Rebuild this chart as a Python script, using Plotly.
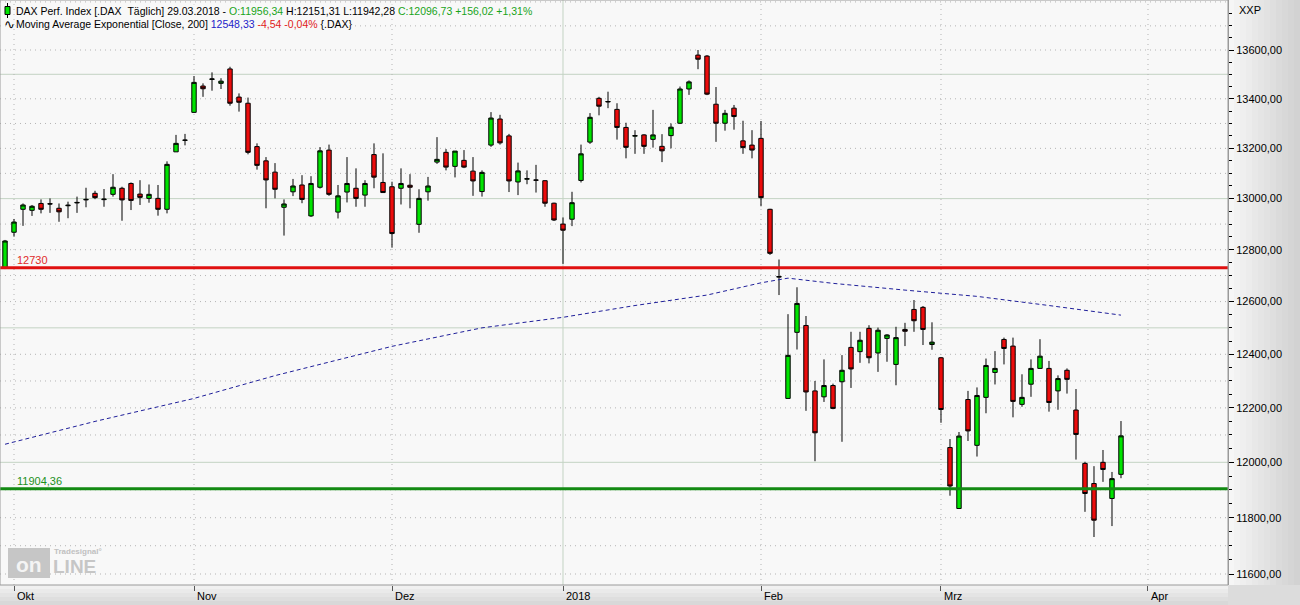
import math
import plotly.graph_objects as go

# ---------------- data ----------------
opens = [12731, 12868, 12958, 12954, 12981, 12980, 12962, 12972, 12983, 12995,
         13021, 12996, 13017, 13041, 13060, 13018, 13001, 13001, 12958, 13186,
         13232, 13345, 13452, 13479, 13463, 13522, 13407, 13382, 13207, 13150,
         13105, 12966, 13027, 13054, 12932, 13045, 13193, 12947, 13026, 13041,
         13014, 13175, 13064, 13047, 13041, 13053, 12899, 13027, 13145, 13184,
         13128, 13152, 13109, 13028, 13213, 13318, 13250, 13066, 13077, 13074,
         13071, 12982, 12900, 12919, 13072, 13225, 13402, 13387, 13357, 13284,
         13249, 13254, 13236, 13208, 13251, 13301, 13440, 13579, 13575, 13378,
         13301, 13362, 13230, 13213, 13240, 12958, 12694, 12235, 12483, 12509,
         12263, 12241, 12283, 12297, 12426, 12410, 12498, 12405, 12460, 12362,
         12494, 12570, 12578, 12437, 12387, 12054, 11833, 12231, 12062, 12239,
         12332, 12456, 12431, 12213, 12288, 12347, 12347, 12263, 12340, 12192,
         11996, 11923, 12000, 11869, 11956.34]
highs = [12838, 12920, 12981, 12975, 12997, 13001, 12981, 12988, 13008, 13043,
         13031, 13038, 13097, 13047, 13064, 13073, 13056, 13054, 13148, 13254,
         13258, 13493, 13463, 13508, 13484, 13531, 13422, 13405, 13220, 13165,
         13141, 12997, 13078, 13093, 13089, 13205, 13215, 13054, 13165, 13120,
         13073, 13220, 13180, 13067, 13120, 13097, 13037, 13086, 13245, 13197,
         13189, 13193, 13165, 13112, 13346, 13335, 13258, 13143, 13112, 13134,
         13073, 12984, 12926, 13027, 13215, 13342, 13408, 13429, 13382, 13303,
         13273, 13257, 13355, 13257, 13300, 13450, 13475, 13600, 13579, 13448,
         13355, 13375, 13311, 13273, 13310, 12960, 12762, 12552, 12655, 12545,
         12300, 12381, 12290, 12397, 12485, 12485, 12510, 12501, 12476, 12504,
         12519, 12606, 12583, 12521, 12390, 12085, 12111, 12263, 12276, 12384,
         12412, 12463, 12463, 12325, 12381, 12457, 12375, 12321, 12347, 12270,
         12002, 11986, 12045, 11965, 12151.31]
lows = [12725, 12851, 12893, 12932, 12942, 12944, 12909, 12923, 12944, 12966,
        12998, 12968, 13008, 12913, 12955, 12975, 12984, 12933, 12942, 13186,
        13212, 13343, 13408, 13433, 13440, 13372, 13348, 13176, 13115, 12962,
        13001, 12855, 13010, 12982, 12928, 13040, 13011, 12922, 12985, 12968,
        12968, 13041, 13024, 12808, 12977, 12962, 12866, 12992, 13138, 13112,
        13084, 13121, 13011, 13008, 13206, 13215, 13026, 13014, 13057, 13024,
        12968, 12912, 12745, 12892, 13064, 13218, 13333, 13362, 13235, 13160,
        13178, 13178, 13203, 13145, 13200, 13298, 13416, 13521, 13415, 13226,
        13271, 13275, 13178, 13160, 12970, 12780, 12625, 12235, 12418, 12189,
        12004, 12222, 12195, 12075, 12274, 12368, 12366, 12334, 12372, 12284,
        12431, 12485, 12435, 12417, 12145, 11879, 11833, 12078, 12021, 12180,
        12287, 12362, 12165, 12204, 12241, 12345, 12186, 12193, 12253, 12010,
        11821, 11731, 11929, 11770, 11942.28]
closes = [12834, 12908, 12975, 12970, 12958, 12979, 12948, 12974, 12985, 12997,
          13004, 12998, 13045, 12995, 12993, 13005, 13017, 12958, 13136, 13220,
          13233, 13467, 13441, 13481, 13472, 13382, 13386, 13184, 13132, 13074,
          13037, 12979, 13050, 12997, 13060, 13190, 13017, 13011, 13060, 13001,
          13060, 13085, 13024, 12863, 13060, 13045, 13001, 13050, 13156, 13125,
          13189, 13125, 13070, 13104, 13322, 13222, 13070, 13110, 13079, 13073,
          12982, 12916, 12876, 12984, 13178, 13325, 13370, 13389, 13284, 13204,
          13251, 13208, 13254, 13190, 13285, 13440, 13469, 13562, 13419, 13301,
          13341, 13328, 13203, 13193, 13004, 12786, 12696, 12396, 12593, 12259,
          12108, 12283, 12198, 12340, 12345, 12453, 12387, 12491, 12473, 12463,
          12487, 12527, 12494, 12446, 12194, 11914, 12096, 12115, 12246, 12358,
          12347, 12422, 12224, 12239, 12347, 12393, 12220, 12309, 12306, 12102,
          11887, 11791, 11974, 11940.71, 12096.73]

# month labels on the bar-index axis
month_labels = ["Okt", "Nov", "Dez", "2018", "Feb", "Mrz", "Apr"]
month_start_idx = [1, 21, 43, 62, 84, 104, 127]

# exponential moving average (200)
ema_idx = [0, 10, 21, 30, 43, 53, 62, 70, 78, 84, 87, 92, 100, 108, 116, 124]
ema_vals = [12066, 12150, 12235, 12320, 12430, 12500, 12540, 12585, 12625,
            12672, 12690, 12670, 12644, 12620, 12585, 12548.33]
ema_change = -4.54

support_red = 12730
support_green = 11904.36

price_ticks = list(range(11600, 13601, 200))

# ---------------- geometry ----------------
W, H = 1300, 605
ML, MR, MT, MB = 0, 72, 0, 20
PW, PH = W - ML - MR, H - MT - MB
Y_RANGE = [4.063008, 4.140131]
X_RANGE = [-0.556, 135.89]


def fx(px):
    return px / PW


def fy(py):
    return 1 - py / PH


def py_of_price(p):
    return (math.log10(p) - Y_RANGE[0]) / (Y_RANGE[1] - Y_RANGE[0])


def de(v):
    return f"{v:.2f}".replace(".", ",")


FONT = "Arial, Liberation Sans, DejaVu Sans, sans-serif"
LEG_SIZE = 10.5
x = list(range(len(closes)))

fig = go.Figure()
fig.add_trace(go.Candlestick(
    x=x, open=opens, high=highs, low=lows, close=closes,
    increasing=dict(fillcolor="#00e400", line=dict(color="black", width=1)),
    decreasing=dict(fillcolor="#ec0c0c", line=dict(color="black", width=1)),
    whiskerwidth=0, hoverinfo="skip", showlegend=False,
))
fig.add_trace(go.Scatter(
    x=ema_idx, y=ema_vals, mode="lines",
    line=dict(color="#1f1f9a", width=1, dash="4px,3px"),
    hoverinfo="skip", showlegend=False,
))

shapes = []
# axis strip backgrounds (simulated gradients)
n = 12
for k in range(n):
    c = int(246 - k * (246 - 210) / (n - 1))
    shapes.append(dict(type="rect", xref="paper", yref="paper",
                       x0=fx(PW + k * MR / n), x1=fx(PW + (k + 1) * MR / n),
                       y0=fy(-1), y1=fy(PH), fillcolor=f"rgb({c},{c},{c})",
                       line=dict(width=0), layer="below"))
for k in range(5):
    c = int(240 - k * 6)
    shapes.append(dict(type="rect", xref="paper", yref="paper",
                       x0=fx(-1), x1=fx(PW), y0=fy(PH + k * MB / 5),
                       y1=fy(PH + (k + 1) * MB / 5), fillcolor=f"rgb({c},{c},{c})",
                       line=dict(width=0), layer="below"))
shapes.append(dict(type="rect", xref="paper", yref="paper",
                   x0=fx(PW), x1=fx(W), y0=fy(PH), y1=fy(H),
                   fillcolor="#dcdcdc", line=dict(width=0), layer="below"))

# horizontal grid
for lvl in range(11600, 13801, 100):
    solid = lvl % 500 == 0
    shapes.append(dict(type="line", xref="paper", yref="y", x0=0, x1=1,
                       y0=lvl, y1=lvl, layer="below",
                       line=dict(color="#c3d3c3" if solid else "#b4b4b4",
                                 width=1, dash="solid" if solid else "1px,4px")))
# vertical grid
for lab, idx in zip(month_labels, month_start_idx):
    solid = lab == "2018"
    shapes.append(dict(type="line", xref="x", yref="paper", x0=idx, x1=idx,
                       y0=0, y1=1, layer="below",
                       line=dict(color="#c3d3c3" if solid else "#b4b4b4",
                                 width=1, dash="solid" if solid else "1px,4px")))
# support / resistance lines
shapes.append(dict(type="line", xref="paper", yref="y", x0=0, x1=1,
                   y0=support_red, y1=support_red,
                   line=dict(color="#e01010", width=3)))
shapes.append(dict(type="line", xref="paper", yref="y", x0=0, x1=1,
                   y0=support_green, y1=support_green,
                   line=dict(color="#138a13", width=3)))
# plot frame
shapes.append(dict(type="rect", xref="paper", yref="paper", x0=0, x1=1,
                   y0=0, y1=1, line=dict(color="#9a9a9a", width=1)))
# legend candle icon
shapes.append(dict(type="line", xref="paper", yref="paper", x0=fx(7.5),
                   x1=fx(7.5), y0=fy(3), y1=fy(18), line=dict(color="black", width=1)))
shapes.append(dict(type="rect", xref="paper", yref="paper", x0=fx(5), x1=fx(10),
                   y0=fy(6.5), y1=fy(14.5), fillcolor="#00e400",
                   line=dict(color="black", width=1)))
# logo block
shapes.append(dict(type="rect", xref="paper", yref="paper", x0=fx(8), x1=fx(50),
                   y0=fy(548), y1=fy(578), fillcolor="#c6c6c6",
                   line=dict(width=0), layer="below"))

annotations = []
G = "#18a418"
line1 = (f"DAX Perf. Index [.DAX&nbsp;&nbsp;Täglich] 29.03.2018 - "
         f"<span style='color:{G}'>O:{de(opens[-1])}</span> "
         f"H:{de(highs[-1])} L:{de(lows[-1])} "
         f"<span style='color:{G}'>C:{de(closes[-1])} "
         f"+{de(closes[-1] - closes[-2])} "
         f"+{de((closes[-1] / closes[-2] - 1) * 100)}%</span>")
line2 = (f"Moving Average Exponential [Close, 200] "
         f"<span style='color:#2323c8'>{de(ema_vals[-1])}</span> "
         f"<span style='color:#e02020'>{de(ema_change)} "
         f"{de(ema_change / (ema_vals[-1] - ema_change) * 100)}%</span> {{.DAX}}")
annotations.append(dict(xref="paper", yref="paper", x=fx(15), y=fy(10.5),
                        xanchor="left", yanchor="middle", text=line1,
                        showarrow=False, bgcolor="#f8f8f8", borderpad=0,
                        font=dict(family=FONT, size=LEG_SIZE, color="black")))
annotations.append(dict(xref="paper", yref="paper", x=fx(15), y=fy(24.5),
                        xanchor="left", yanchor="middle", text=line2,
                        showarrow=False, bgcolor="#f8f8f8", borderpad=0,
                        font=dict(family=FONT, size=LEG_SIZE, color="black")))
annotations.append(dict(xref="paper", yref="paper", x=fx(2), y=fy(24.5),
                        xanchor="left", yanchor="middle", text="∿",
                        showarrow=False,
                        font=dict(family="DejaVu Sans", size=13, color="black")))
# level labels
annotations.append(dict(xref="paper", yref="paper", x=fx(15),
                        y=py_of_price(support_red), yshift=8, xanchor="left",
                        yanchor="middle", text=str(support_red), showarrow=False,
                        font=dict(family=FONT, size=11, color="#e02a2a")))
annotations.append(dict(xref="paper", yref="paper", x=fx(15),
                        y=py_of_price(support_green), yshift=8, xanchor="left",
                        yanchor="middle", text=de(support_green), showarrow=False,
                        font=dict(family=FONT, size=11, color="#1c901c")))
# month labels (left aligned at tick)
for lab, idx in zip(month_labels, month_start_idx):
    annotations.append(dict(xref="x", yref="paper", x=idx, xshift=1,
                            y=fy(596), xanchor="left", yanchor="middle",
                            text=lab, showarrow=False,
                            font=dict(family=FONT, size=11, color="black")))
annotations.append(dict(xref="paper", yref="paper", x=fx(1237), y=fy(10),
                        xanchor="left", yanchor="middle", text="XXP",
                        showarrow=False,
                        font=dict(family=FONT, size=11, color="black")))
# logo text
annotations.append(dict(xref="paper", yref="paper", x=fx(29), y=fy(564),
                        xanchor="center", yanchor="middle", text="<b>on</b>",
                        showarrow=False,
                        font=dict(family=FONT, size=21, color="#f4f4f4")))
annotations.append(dict(xref="paper", yref="paper", x=fx(51), y=fy(566),
                        xanchor="left", yanchor="middle", text="<b>LINE</b>",
                        showarrow=False,
                        font=dict(family=FONT, size=19, color="#c6c6c6")))
annotations.append(dict(xref="paper", yref="paper", x=fx(52), y=fy(551),
                        xanchor="left", yanchor="middle", text="<b>Tradesignal°</b>",
                        showarrow=False,
                        font=dict(family=FONT, size=8, color="#c0c0c0")))

fig.update_layout(
    width=W, height=H,
    margin=dict(l=ML, r=MR, t=MT, b=MB, pad=0),
    paper_bgcolor="#eeeeee", plot_bgcolor="#f8f8f8",
    showlegend=False, shapes=shapes, annotations=annotations,
    font=dict(family=FONT, size=11, color="black"),
    xaxis=dict(range=X_RANGE, showgrid=False, zeroline=False,
               rangeslider=dict(visible=False), tickmode="array",
               tickvals=month_start_idx, showticklabels=False,
               ticks="outside", ticklen=5, tickcolor="#555555",
               showline=False, fixedrange=True),
    yaxis=dict(type="log", side="right", range=Y_RANGE, showgrid=False,
               zeroline=False, tickmode="array", tickvals=price_ticks,
               ticktext=[de(v) for v in price_ticks], ticks="outside",
               ticklen=5, tickcolor="black",
               tickfont=dict(family=FONT, size=11, color="black"),
               minor=dict(tickmode="array",
                          tickvals=[v for v in range(11550, 13801, 50) if v % 200 != 0],
                          ticks="outside", ticklen=3, tickcolor="black"),
               showline=True, linecolor="#9a9a9a", fixedrange=True),
)

fig.write_html(
    "out.html",
    config={"displayModeBar": False},
    post_script="document.body.style.margin='0';document.body.style.overflow='hidden';",
)
